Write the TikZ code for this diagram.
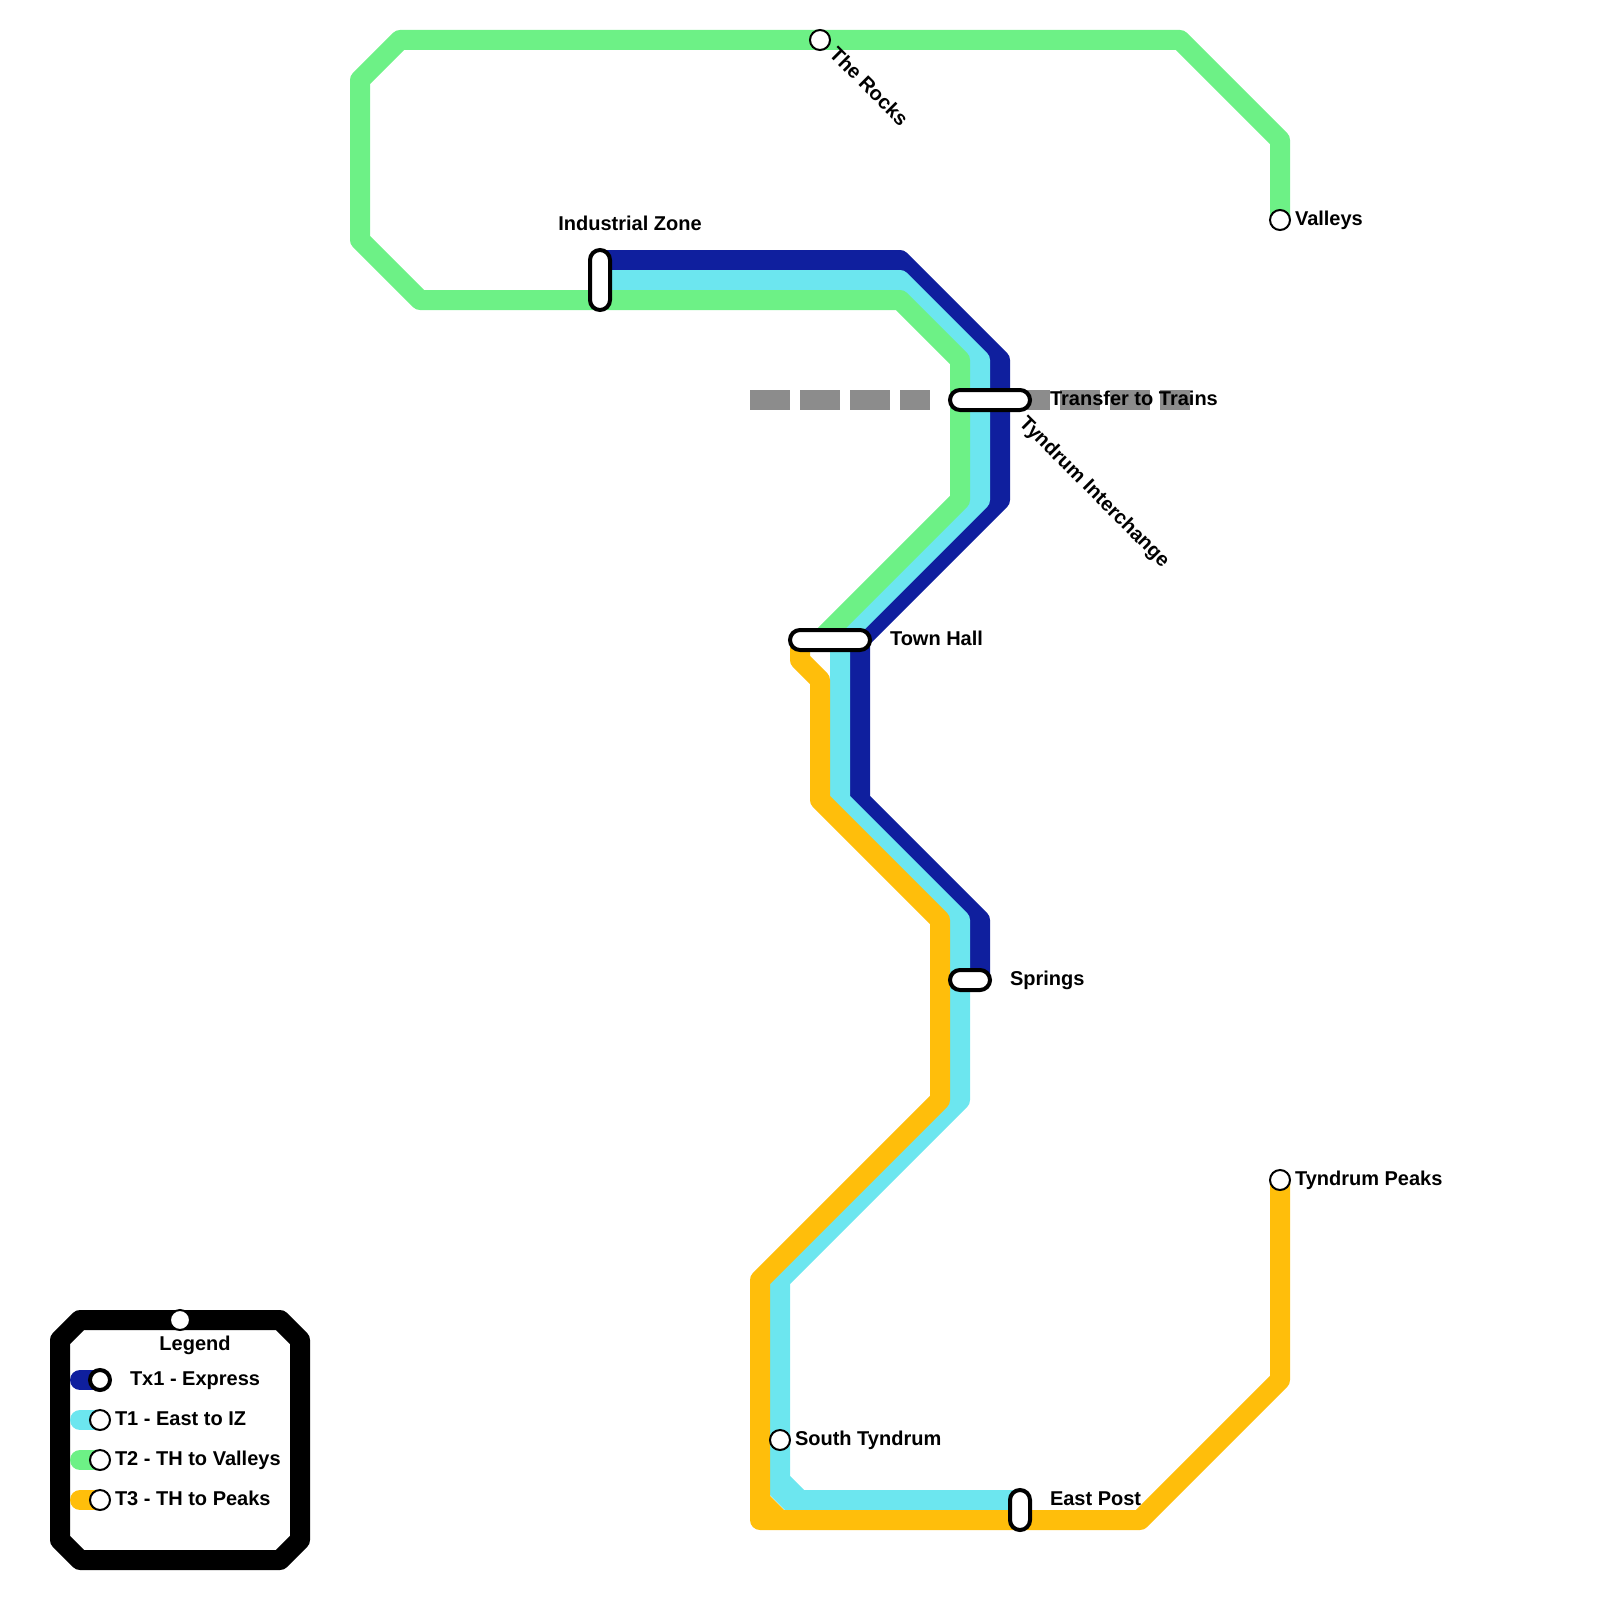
\documentclass[tikz,border=0pt]{standalone}
\usepackage{fontspec}
\setmainfont{Liberation Sans}
\usepackage{xcolor}
\usepackage{tikz}
\usetikzlibrary{positioning}
\definecolor{express}{HTML}{0F1F9E}
\definecolor{cyanline}{HTML}{6CE6EF}
\definecolor{greenline}{HTML}{6DF186}
\definecolor{orangeline}{HTML}{FFBE0B}
\definecolor{transfer}{HTML}{8C8C8C}

\begin{document}
\begin{tikzpicture}[
  x=1pt, y=-1pt,
  route/.style={line width=20pt, line join=round},
  swatch/.style={line width=20pt, line cap=round},
  walk/.style={line width=20pt, draw=transfer, dash pattern=on 40pt off 10pt},
  stop/.style={circle, draw=black, fill=white, line width=2pt, minimum size=20pt,
               inner sep=0pt, outer sep=0pt},
  bigstop/.style={stop, line width=4pt},
  hub/.style={rectangle, draw=black, fill=white, line width=4pt, rounded corners=10pt,
              inner sep=0pt, outer sep=0pt},
  lbl/.style={font=\bfseries\fontsize{20}{24}\selectfont, text=black, inner sep=0pt,
              outer sep=0pt, text height=15pt, text depth=5pt}
]
  \useasboundingbox (0,0) rectangle (1600,1600);

  \coordinate (walkwa) at (750,400);
  \coordinate (walkwb) at (930,400);
  \coordinate (walkea) at (1010,400);
  \coordinate (walkeb) at (1190,400);
  \draw[walk] (walkwa) -- (walkwb);
  \draw[walk] (walkea) -- (walkeb);

  \coordinate (valleysend) at (1280,220);
  \coordinate (izgreen) at (600,300);
  \coordinate (thgreen) at (820,640);
  \coordinate (izcyan) at (600,280);
  \coordinate (epcyan) at (1020,1500);
  \coordinate (izblue) at (600,260);
  \coordinate (thorange) at (800,640);
  \coordinate (peaksend) at (1280,1180);
  \coordinate (springsblue) at (980,980);

  \draw[route, draw=express] (izblue) -- (900,260) -- (1000,360) -- (1000,500) -- (860,640)
    -- (860,800) -- (980,920) -- (springsblue);
  \draw[route, draw=cyanline] (izcyan) -- (900,280) -- (980,360) -- (980,500) -- (840,640)
    -- (840,800) -- (960,920) -- (960,1100) -- (780,1280) -- (780,1480) -- (800,1500) -- (epcyan);
  \draw[route, draw=cyanline] (770,1481) -- (800,1511);
  \draw[route, draw=greenline] (valleysend) -- (1280,140) -- (1180,40) -- (400,40) -- (360,80)
    -- (360,240) -- (420,300) -- (izgreen) -- (900,300) -- (960,360) -- (960,500) -- (thgreen);
  \draw[route, draw=orangeline] (thorange) -- (800,660) -- (820,680) -- (820,800) -- (940,920)
    -- (940,1100) -- (760,1280) -- (760,1520) -- (1140,1520) -- (1280,1380) -- (peaksend);
  \draw[route, draw=orangeline] (760,1500) -- (780,1520);

  \node[hub, minimum width=20pt, minimum height=60pt] (iz) at (600,280) {};
  \node[hub, minimum width=80pt, minimum height=20pt] (tyndrum) at (990,400) {};
  \node[hub, minimum width=80pt, minimum height=20pt] (townhall) at (830,640) {};
  \node[hub, minimum width=40pt, minimum height=20pt] (springs) at (970,980) {};
  \node[hub, minimum width=20pt, minimum height=40pt] (eastpost) at (1020,1510) {};
  \node[stop] (rocks) at (820,40) {};
  \node[stop] (valleys) at (1280,220) {};
  \node[stop] (peaks) at (1280,1180) {};
  \node[stop] (south) at (780,1440) {};

  \node[lbl, above=15pt of iz.north, xshift=30pt] (izlabel) {Industrial Zone};
  \node[lbl, right=20pt of tyndrum] (transferlabel) {Transfer to Trains};
  \node[lbl, rotate=-45, anchor=west] (tyndrumlabel) at (1022,421) {Tyndrum Interchange};
  \node[lbl, right=20pt of townhall] (townhalllabel) {Town Hall};
  \node[lbl, right=20pt of springs] (springslabel) {Springs};
  \node[lbl, right=20pt of eastpost, yshift=10pt] (eastpostlabel) {East Post};
  \node[lbl, rotate=-45, anchor=west] (rockslabel) at (832,52) {The Rocks};
  \node[lbl, right=5pt of valleys] (valleyslabel) {Valleys};
  \node[lbl, right=5pt of peaks] (peakslabel) {Tyndrum Peaks};
  \node[lbl, right=5pt of south] (southlabel) {South Tyndrum};

  \draw[line width=20pt, line join=round] (80,1320) -- (280,1320) -- (300,1340) -- (300,1540)
    -- (280,1560) -- (80,1560) -- (60,1540) -- (60,1340) -- cycle;
  \node[stop] (legendstop) at (180,1320) {};
  \node[lbl, below=5pt of legendstop, xshift=15pt] (legend) {Legend};

  \coordinate (keyx) at (80,1380);
  \coordinate (keya) at (80,1420);
  \coordinate (keyb) at (80,1460);
  \coordinate (keyc) at (80,1500);
  \coordinate (keyxend) at (100,1380);
  \coordinate (keyaend) at (100,1420);
  \coordinate (keybend) at (100,1460);
  \coordinate (keycend) at (100,1500);
  \draw[swatch, draw=express] (keyx) -- (keyxend);
  \draw[swatch, draw=cyanline] (keya) -- (keyaend);
  \draw[swatch, draw=greenline] (keyb) -- (keybend);
  \draw[swatch, draw=orangeline] (keyc) -- (keycend);
  \node[bigstop] (stopx) at (keyxend) {};
  \node[stop] (stopa) at (keyaend) {};
  \node[stop] (stopb) at (keybend) {};
  \node[stop] (stopc) at (keycend) {};
  \node[lbl, right=20pt of stopx] (keyxlabel) {Tx1 - Express};
  \node[lbl, right=5pt of stopa] (keyalabel) {T1 - East to IZ};
  \node[lbl, right=5pt of stopb] (keyblabel) {T2 - TH to Valleys};
  \node[lbl, right=5pt of stopc] (keyclabel) {T3 - TH to Peaks};
\end{tikzpicture}
\end{document}
